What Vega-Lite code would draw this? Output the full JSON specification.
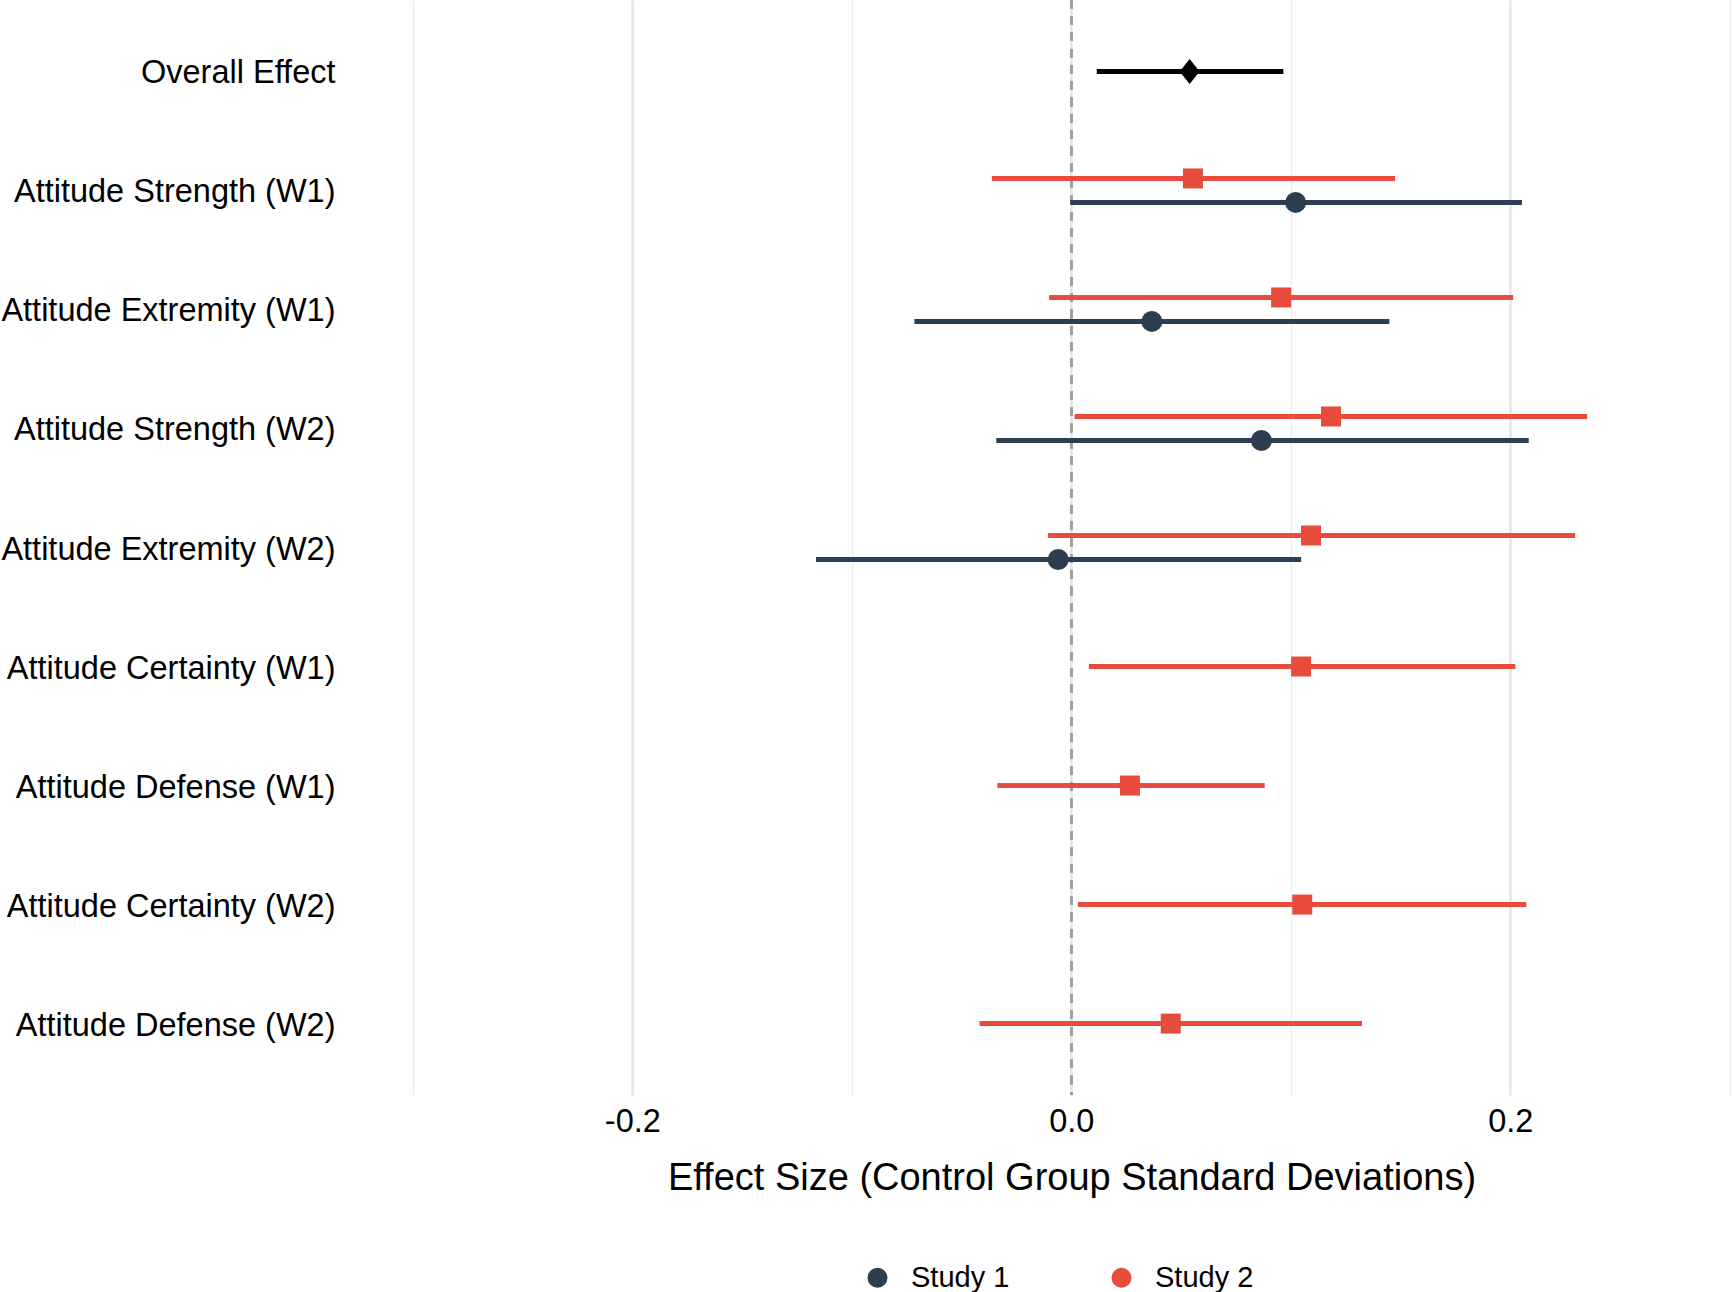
{
  "$schema": "https://vega.github.io/schema/vega-lite/v6.json",
  "autosize": {"type": "none"},
  "padding": {"left": 347, "top": 0, "right": 0, "bottom": 197},
  "width": 1385,
  "height": 1095,
  "background": "white",
  "config": {
    "view": {"stroke": null},
    "font": "Liberation Sans",
    "axis": {"labelFont": "Liberation Sans", "titleFont": "Liberation Sans", "labelColor": "#000000", "titleColor": "#000000", "titleFontWeight": "normal"},
    "legend": {"labelFont": "Liberation Sans", "labelColor": "#000000"}
  },
  "data": {
    "values": [
      {"outcome": "Overall Effect", "study": "Overall", "est": 0.0539, "lo": 0.0116, "hi": 0.0966},
      {"outcome": "Attitude Strength (W1)", "study": "Study 2", "est": 0.0554, "lo": -0.0362, "hi": 0.1475},
      {"outcome": "Attitude Strength (W1)", "study": "Study 1", "est": 0.1022, "lo": -0.0005, "hi": 0.2053},
      {"outcome": "Attitude Extremity (W1)", "study": "Study 2", "est": 0.0956, "lo": -0.0101, "hi": 0.2013},
      {"outcome": "Attitude Extremity (W1)", "study": "Study 1", "est": 0.0367, "lo": -0.0715, "hi": 0.1449},
      {"outcome": "Attitude Strength (W2)", "study": "Study 2", "est": 0.1183, "lo": 0.0015, "hi": 0.235},
      {"outcome": "Attitude Strength (W2)", "study": "Study 1", "est": 0.0866, "lo": -0.0342, "hi": 0.2084},
      {"outcome": "Attitude Extremity (W2)", "study": "Study 2", "est": 0.1092, "lo": -0.0106, "hi": 0.2295},
      {"outcome": "Attitude Extremity (W2)", "study": "Study 1", "est": -0.006, "lo": -0.1163, "hi": 0.1047},
      {"outcome": "Attitude Certainty (W1)", "study": "Study 2", "est": 0.1047, "lo": 0.008, "hi": 0.2023},
      {"outcome": "Attitude Defense (W1)", "study": "Study 2", "est": 0.0267, "lo": -0.0337, "hi": 0.0881},
      {"outcome": "Attitude Certainty (W2)", "study": "Study 2", "est": 0.1052, "lo": 0.003, "hi": 0.2073},
      {"outcome": "Attitude Defense (W2)", "study": "Study 2", "est": 0.0453, "lo": -0.0418, "hi": 0.1324}
    ]
  },
  "transform": [
    {"joinaggregate": [{"op": "count", "as": "n_studies"}], "groupby": ["outcome"]}
  ],
  "encoding": {
    "y": {
      "field": "outcome",
      "type": "nominal",
      "sort": ["Overall Effect", "Attitude Strength (W1)", "Attitude Extremity (W1)", "Attitude Strength (W2)", "Attitude Extremity (W2)", "Attitude Certainty (W1)", "Attitude Defense (W1)", "Attitude Certainty (W2)", "Attitude Defense (W2)"],
      "scale": {"paddingInner": 0, "paddingOuter": 0.1},
      "axis": {"title": null, "ticks": false, "domain": false, "grid": false, "labelFontSize": 32.5, "labelPadding": 12, "labelLimit": 600, "labelOffset": 2}
    }
  },
  "resolve": {"legend": {"color": "independent"}},
  "layer": [
    {
      "mark": {"type": "rule", "color": "#a0a0a0", "strokeWidth": 2, "strokeDash": [8.5, 7.8]},
      "encoding": {
        "y": null,
        "x": {
          "datum": 0,
          "type": "quantitative",
          "scale": {"domain": [-0.33, 0.301], "nice": false, "zero": false},
          "axis": {
            "values": [-0.3, -0.2, -0.1, 0, 0.1, 0.2, 0.3],
            "labelExpr": "datum.value == -0.2 ? '-0.2' : datum.value == 0 ? '0.0' : datum.value == 0.2 ? '0.2' : ''",
            "labelFontSize": 32.5,
            "labelPadding": 10,
            "ticks": false,
            "domain": false,
            "grid": true,
            "gridColor": {"condition": {"test": "datum.value == -0.2 || datum.value == 0 || datum.value == 0.2", "value": "#e3e3e3"}, "value": "#ececec"},
            "gridWidth": {"condition": {"test": "datum.value == -0.2 || datum.value == 0 || datum.value == 0.2", "value": 2.2}, "value": 1.2},
            "title": "Effect Size (Control Group Standard Deviations)",
            "titleFontSize": 38,
            "titlePadding": 22,
            "titleX": 724.5,
            "titleAnchor": "start",
            "titleAlign": "center"
          }
        }
      }
    },
    {
      "transform": [{"filter": "datum.n_studies == 2"}],
      "mark": {"type": "rule", "strokeWidth": 5},
      "encoding": {
        "yOffset": {
          "field": "study",
          "type": "nominal",
          "scale": {"domain": ["Study 2", "Overall", "Study 1"], "range": [41.5, 77.5], "paddingInner": 0, "paddingOuter": 0}
        },
        "x": {"field": "lo", "type": "quantitative"},
        "x2": {"field": "hi"},
        "color": {
          "field": "study",
          "type": "nominal",
          "scale": {"domain": ["Study 1", "Study 2", "Overall"], "range": ["#2c3e50", "#e74c3c", "#000000"]},
          "legend": null
        }
      }
    },
    {
      "transform": [{"filter": "datum.n_studies == 1"}],
      "mark": {"type": "rule", "strokeWidth": 5},
      "encoding": {
        "x": {"field": "lo", "type": "quantitative"},
        "x2": {"field": "hi"},
        "color": {"field": "study", "type": "nominal", "legend": null},
        "strokeWidth": {"condition": {"test": "datum.study === 'Overall'", "value": 5.6}, "value": 5}
      }
    },
    {
      "transform": [{"filter": "datum.study === 'Study 1'"}],
      "mark": {"type": "point", "filled": true, "opacity": 1, "shape": "circle", "size": 440},
      "encoding": {
        "yOffset": {"field": "study", "type": "nominal"},
        "x": {"field": "est", "type": "quantitative"},
        "color": {
          "field": "study",
          "type": "nominal",
          "legend": {
            "title": null,
            "orient": "none",
            "direction": "horizontal",
            "values": ["Study 1", "Study 2"],
            "legendX": 516,
            "legendY": 1263,
            "labelFontSize": 29,
            "labelOffset": 19,
            "columnPadding": 97,
            "padding": 0,
            "symbolSize": 400,
            "symbolStrokeWidth": 0,
            "encode": {
              "symbols": {
                "shape": {"value": {"expr": "datum.value === 'Study 1' ? 'M-1.9,-0.2H-0.8V0.2H-1.9Z M0.8,-0.2H1.9V0.2H0.8Z M1,0A1,1 0 1,1 -1,0A1,1 0 1,1 1,0Z' : 'M-1.9,-0.2H-0.9V0.2H-1.9Z M0.9,-0.2H1.9V0.2H0.9Z M-0.97,-0.95H0.97V0.95H-0.97Z'"}},
                "strokeWidth": {"value": 0},
                "opacity": {"value": 1}
              }
            }
          }
        }
      }
    },
    {
      "transform": [{"filter": "datum.study === 'Study 2' && datum.n_studies == 2"}],
      "mark": {"type": "point", "filled": true, "opacity": 1, "shape": "square", "size": 400},
      "encoding": {
        "yOffset": {"field": "study", "type": "nominal"},
        "x": {"field": "est", "type": "quantitative"},
        "color": {"field": "study", "type": "nominal", "legend": null}
      }
    },
    {
      "transform": [{"filter": "datum.study === 'Study 2' && datum.n_studies == 1"}],
      "mark": {"type": "point", "filled": true, "opacity": 1, "shape": "square", "size": 400},
      "encoding": {
        "x": {"field": "est", "type": "quantitative"},
        "color": {"field": "study", "type": "nominal", "legend": null}
      }
    },
    {
      "transform": [{"filter": "datum.study === 'Overall'"}],
      "mark": {"type": "point", "filled": true, "opacity": 1, "color": "#000000", "shape": "M-0.8,0L0,-1L0.8,0L0,1Z", "size": 625},
      "encoding": {
        "x": {"field": "est", "type": "quantitative"}
      }
    }
  ]
}
